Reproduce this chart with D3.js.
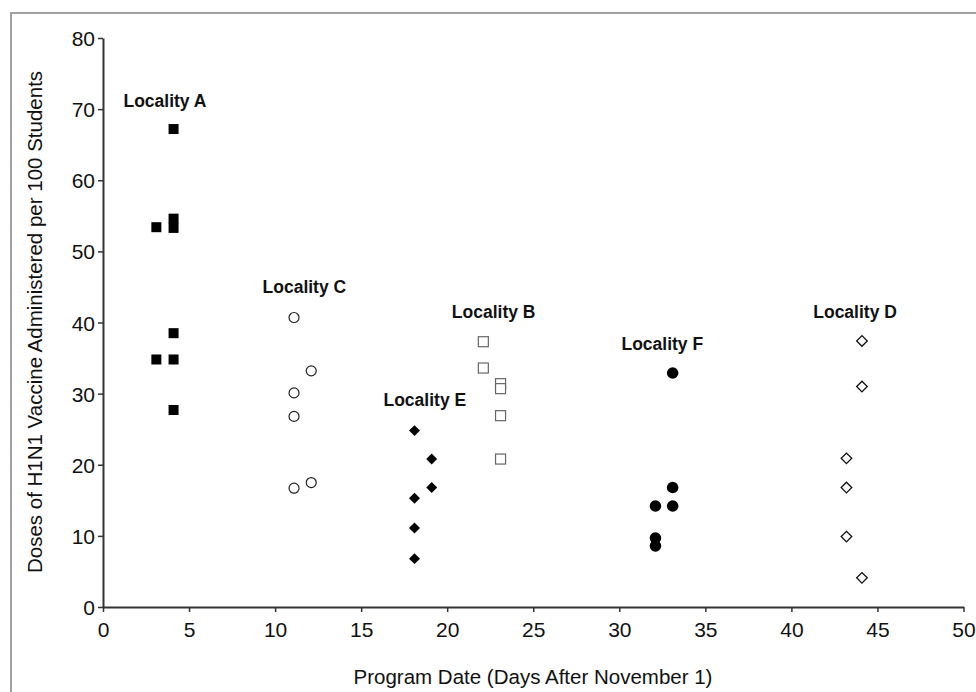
<!DOCTYPE html>
<html>
<head>
<meta charset="utf-8">
<script src="https://cdn.jsdelivr.net/npm/d3@7"></script>
<style>
  body { margin: 0; background: #fff; }
  svg { display: block; font-family: "Liberation Sans", Arial, sans-serif; }
</style>
</head>
<body>
<div id="chart"></div>
<script>
// Program date (days after Nov 1) and doses per 100 students, per locality
const localityA = [[4.1, 67.2], [3.1, 53.4], [4.1, 54.6], [4.1, 53.3], [4.1, 38.5], [3.1, 34.8], [4.1, 34.8], [4.1, 27.7]];
const localityC = [[11.1, 40.7], [12.1, 33.2], [11.1, 30.1], [11.1, 26.8], [11.1, 16.7], [12.1, 17.5]];
const localityE = [[18.1, 24.8], [19.1, 20.8], [19.1, 16.8], [18.1, 15.3], [18.1, 11.1], [18.1, 6.8]];
const localityB = [[22.1, 37.3], [22.1, 33.6], [23.1, 31.4], [23.1, 30.7], [23.1, 26.9], [23.1, 20.8]];
const localityF = [[33.1, 32.9], [33.1, 16.8], [32.1, 14.2], [33.1, 14.2], [32.1, 9.7], [32.1, 8.6]];
const localityD = [[44.1, 37.4], [44.1, 31.0], [43.2, 20.9], [43.2, 16.8], [43.2, 9.9], [44.1, 4.1]];

const labelNames = ["Locality A", "Locality C", "Locality B", "Locality E", "Locality F", "Locality D"];
const labelAnchors = [[3.6, 71.1], [11.7, 45.0], [22.7, 41.5], [18.7, 29.1], [32.5, 37.0], [43.7, 41.5]];

const xTicks = [0, 5, 10, 15, 20, 25, 30, 35, 40, 45, 50];
const yTicks = [0, 10, 20, 30, 40, 50, 60, 70, 80];

const W = 976, H = 692;
const svg = d3.select("#chart").append("svg")
  .attr("width", W).attr("height", H);

// outer frame (runs off the right and bottom edges)
svg.append("rect")
  .attr("x", 11).attr("y", 13)
  .attr("width", 1000).attr("height", 700)
  .attr("fill", "none")
  .attr("stroke", "#a0a0a0")
  .attr("stroke-width", 2);

const x = d3.scaleLinear().domain([0, 50]).range([103, 963.5]);
const y = d3.scaleLinear().domain([0, 80]).range([607, 38]);

// axes
const xAxis = svg.append("g")
  .attr("transform", `translate(0,${y(0)})`)
  .call(d3.axisBottom(x).tickValues(xTicks).tickSize(5).tickPadding(10).tickSizeOuter(0));
const yAxis = svg.append("g")
  .attr("transform", `translate(${x(0)},0)`)
  .call(d3.axisLeft(y).tickValues(yTicks).tickSize(5).tickPadding(3).tickSizeOuter(0));

[xAxis, yAxis].forEach(g => {
  g.attr("font-size", 21).attr("font-family", "Liberation Sans, Arial, sans-serif");
  g.select(".domain").attr("stroke", "#333").attr("stroke-width", 2);
  g.selectAll(".tick line").attr("stroke", "#333").attr("stroke-width", 1.5);
  g.selectAll(".tick text").attr("fill", "#111").attr("font-size", 21);
});
yAxis.selectAll(".tick text").attr("dy", "0.36em");

// axis titles
svg.append("text")
  .attr("x", 533).attr("y", 684)
  .attr("text-anchor", "middle")
  .attr("fill", "#111")
  .style("font-size", "20.5px")
  .text("Program Date (Days After November 1)");

svg.append("text")
  .attr("transform", `translate(42,${322}) rotate(-90)`)
  .attr("text-anchor", "middle")
  .attr("fill", "#111")
  .style("font-size", "20.5px")
  .text("Doses of H1N1 Vaccine Administered per 100 Students");

const plot = svg.append("g");

// Locality A: filled squares
plot.selectAll(".ptA").data(localityA).join("rect")
  .attr("x", d => x(d[0]) - 5).attr("y", d => y(d[1]) - 5)
  .attr("width", 10).attr("height", 10)
  .attr("fill", "#000");

// Locality C: open circles
plot.selectAll(".ptC").data(localityC).join("circle")
  .attr("cx", d => x(d[0])).attr("cy", d => y(d[1]))
  .attr("r", 5)
  .attr("fill", "#fff").attr("stroke", "#222").attr("stroke-width", 1.2);

// Locality E: filled diamonds
const diamond = d3.symbol().type(d3.symbolSquare).size(60);
plot.selectAll(".ptE").data(localityE).join("path")
  .attr("d", diamond)
  .attr("transform", d => `translate(${x(d[0])},${y(d[1])}) rotate(45)`)
  .attr("fill", "#000");

// Locality B: open squares
plot.selectAll(".ptB").data(localityB).join("rect")
  .attr("x", d => x(d[0]) - 5).attr("y", d => y(d[1]) - 5)
  .attr("width", 10).attr("height", 10)
  .attr("fill", "#fff").attr("stroke", "#666").attr("stroke-width", 1.2);

// Locality F: filled circles
plot.selectAll(".ptF").data(localityF).join("circle")
  .attr("cx", d => x(d[0])).attr("cy", d => y(d[1]))
  .attr("r", 5.8)
  .attr("fill", "#000");

// Locality D: open diamonds
plot.selectAll(".ptD").data(localityD).join("path")
  .attr("d", d3.symbol().type(d3.symbolSquare).size(56))
  .attr("transform", d => `translate(${x(d[0])},${y(d[1])}) rotate(45)`)
  .attr("fill", "#fff").attr("stroke", "#111").attr("stroke-width", 1.3);

// locality labels
svg.selectAll(".lab").data(labelNames).join("text")
  .attr("x", (d, i) => x(labelAnchors[i][0]))
  .attr("y", (d, i) => y(labelAnchors[i][1]))
  .attr("dy", "0.35em")
  .attr("text-anchor", "middle")
  .attr("fill", "#111")
  .style("font-size", "17.5px")
  .style("font-weight", "bold")
  .text(d => d);
</script>
</body>
</html>
